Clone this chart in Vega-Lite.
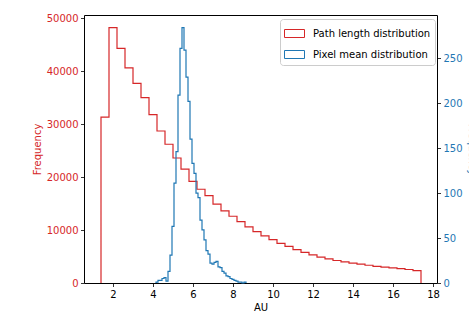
{
  "$schema": "https://vega.github.io/schema/vega-lite/v6.json",
  "autosize": {"type": "none"},
  "width": 353,
  "height": 268,
  "padding": {"left": 84, "top": 15, "right": 32, "bottom": 37},
  "background": "white",
  "config": {
    "font": "DejaVu Sans",
    "view": {"stroke": "#000000", "strokeWidth": 1},
    "axis": {
      "labelFontSize": 10, "titleFontSize": 10, "titleFontWeight": "normal",
      "tickColor": "#000000", "tickSize": 3.5, "tickWidth": 0.8,
      "domain": false, "grid": false, "labelPadding": 2.5,
      "labelColor": "#000000", "titleColor": "#000000"
    },
    "legend": {"labelFontSize": 10}
  },
  "data": {
    "values": [
      {"s": "Path length distribution", "x": 1.4, "y": 0, "i": 0},
      {"s": "Path length distribution", "x": 1.4, "y": 31300, "i": 1},
      {"s": "Path length distribution", "x": 1.8, "y": 48200, "i": 2},
      {"s": "Path length distribution", "x": 2.2, "y": 44300, "i": 3},
      {"s": "Path length distribution", "x": 2.6, "y": 40600, "i": 4},
      {"s": "Path length distribution", "x": 3.0, "y": 37700, "i": 5},
      {"s": "Path length distribution", "x": 3.4, "y": 35000, "i": 6},
      {"s": "Path length distribution", "x": 3.8, "y": 31800, "i": 7},
      {"s": "Path length distribution", "x": 4.2, "y": 28700, "i": 8},
      {"s": "Path length distribution", "x": 4.6, "y": 26200, "i": 9},
      {"s": "Path length distribution", "x": 5.0, "y": 23600, "i": 10},
      {"s": "Path length distribution", "x": 5.4, "y": 21500, "i": 11},
      {"s": "Path length distribution", "x": 5.8, "y": 19200, "i": 12},
      {"s": "Path length distribution", "x": 6.2, "y": 17700, "i": 13},
      {"s": "Path length distribution", "x": 6.6, "y": 16500, "i": 14},
      {"s": "Path length distribution", "x": 7.0, "y": 14900, "i": 15},
      {"s": "Path length distribution", "x": 7.4, "y": 13600, "i": 16},
      {"s": "Path length distribution", "x": 7.8, "y": 12600, "i": 17},
      {"s": "Path length distribution", "x": 8.2, "y": 11600, "i": 18},
      {"s": "Path length distribution", "x": 8.6, "y": 10600, "i": 19},
      {"s": "Path length distribution", "x": 9.0, "y": 9700, "i": 20},
      {"s": "Path length distribution", "x": 9.4, "y": 8900, "i": 21},
      {"s": "Path length distribution", "x": 9.8, "y": 8200, "i": 22},
      {"s": "Path length distribution", "x": 10.2, "y": 7500, "i": 23},
      {"s": "Path length distribution", "x": 10.6, "y": 6900, "i": 24},
      {"s": "Path length distribution", "x": 11.0, "y": 6300, "i": 25},
      {"s": "Path length distribution", "x": 11.4, "y": 5800, "i": 26},
      {"s": "Path length distribution", "x": 11.8, "y": 5300, "i": 27},
      {"s": "Path length distribution", "x": 12.2, "y": 4900, "i": 28},
      {"s": "Path length distribution", "x": 12.6, "y": 4550, "i": 29},
      {"s": "Path length distribution", "x": 13.0, "y": 4250, "i": 30},
      {"s": "Path length distribution", "x": 13.4, "y": 4000, "i": 31},
      {"s": "Path length distribution", "x": 13.8, "y": 3750, "i": 32},
      {"s": "Path length distribution", "x": 14.2, "y": 3550, "i": 33},
      {"s": "Path length distribution", "x": 14.6, "y": 3350, "i": 34},
      {"s": "Path length distribution", "x": 15.0, "y": 3150, "i": 35},
      {"s": "Path length distribution", "x": 15.4, "y": 3000, "i": 36},
      {"s": "Path length distribution", "x": 15.8, "y": 2850, "i": 37},
      {"s": "Path length distribution", "x": 16.2, "y": 2700, "i": 38},
      {"s": "Path length distribution", "x": 16.6, "y": 2550, "i": 39},
      {"s": "Path length distribution", "x": 17.0, "y": 2350, "i": 40},
      {"s": "Path length distribution", "x": 17.4, "y": 0, "i": 41},
      {"s": "Pixel mean distribution", "x": 4.15, "y": 0, "i": 0},
      {"s": "Pixel mean distribution", "x": 4.15, "y": 1, "i": 1},
      {"s": "Pixel mean distribution", "x": 4.25, "y": 3, "i": 2},
      {"s": "Pixel mean distribution", "x": 4.35, "y": 3, "i": 3},
      {"s": "Pixel mean distribution", "x": 4.45, "y": 5, "i": 4},
      {"s": "Pixel mean distribution", "x": 4.55, "y": 6, "i": 5},
      {"s": "Pixel mean distribution", "x": 4.65, "y": 2, "i": 6},
      {"s": "Pixel mean distribution", "x": 4.75, "y": 13, "i": 7},
      {"s": "Pixel mean distribution", "x": 4.85, "y": 31, "i": 8},
      {"s": "Pixel mean distribution", "x": 4.95, "y": 63, "i": 9},
      {"s": "Pixel mean distribution", "x": 5.05, "y": 111, "i": 10},
      {"s": "Pixel mean distribution", "x": 5.15, "y": 146, "i": 11},
      {"s": "Pixel mean distribution", "x": 5.25, "y": 209, "i": 12},
      {"s": "Pixel mean distribution", "x": 5.35, "y": 261, "i": 13},
      {"s": "Pixel mean distribution", "x": 5.45, "y": 284, "i": 14},
      {"s": "Pixel mean distribution", "x": 5.55, "y": 259, "i": 15},
      {"s": "Pixel mean distribution", "x": 5.65, "y": 229, "i": 16},
      {"s": "Pixel mean distribution", "x": 5.75, "y": 202, "i": 17},
      {"s": "Pixel mean distribution", "x": 5.85, "y": 160, "i": 18},
      {"s": "Pixel mean distribution", "x": 5.95, "y": 133, "i": 19},
      {"s": "Pixel mean distribution", "x": 6.05, "y": 122, "i": 20},
      {"s": "Pixel mean distribution", "x": 6.15, "y": 100, "i": 21},
      {"s": "Pixel mean distribution", "x": 6.25, "y": 95, "i": 22},
      {"s": "Pixel mean distribution", "x": 6.35, "y": 70, "i": 23},
      {"s": "Pixel mean distribution", "x": 6.45, "y": 59, "i": 24},
      {"s": "Pixel mean distribution", "x": 6.55, "y": 48, "i": 25},
      {"s": "Pixel mean distribution", "x": 6.65, "y": 36, "i": 26},
      {"s": "Pixel mean distribution", "x": 6.75, "y": 32, "i": 27},
      {"s": "Pixel mean distribution", "x": 6.85, "y": 22, "i": 28},
      {"s": "Pixel mean distribution", "x": 6.95, "y": 21, "i": 29},
      {"s": "Pixel mean distribution", "x": 7.05, "y": 23, "i": 30},
      {"s": "Pixel mean distribution", "x": 7.15, "y": 24, "i": 31},
      {"s": "Pixel mean distribution", "x": 7.25, "y": 18, "i": 32},
      {"s": "Pixel mean distribution", "x": 7.35, "y": 17, "i": 33},
      {"s": "Pixel mean distribution", "x": 7.45, "y": 13, "i": 34},
      {"s": "Pixel mean distribution", "x": 7.55, "y": 11, "i": 35},
      {"s": "Pixel mean distribution", "x": 7.65, "y": 8, "i": 36},
      {"s": "Pixel mean distribution", "x": 7.75, "y": 7, "i": 37},
      {"s": "Pixel mean distribution", "x": 7.85, "y": 5, "i": 38},
      {"s": "Pixel mean distribution", "x": 7.95, "y": 4, "i": 39},
      {"s": "Pixel mean distribution", "x": 8.05, "y": 3, "i": 40},
      {"s": "Pixel mean distribution", "x": 8.15, "y": 2, "i": 41},
      {"s": "Pixel mean distribution", "x": 8.25, "y": 1, "i": 42},
      {"s": "Pixel mean distribution", "x": 8.35, "y": 1, "i": 43},
      {"s": "Pixel mean distribution", "x": 8.45, "y": 0, "i": 44},
      {"s": "Pixel mean distribution", "x": 8.55, "y": 1, "i": 45},
      {"s": "Pixel mean distribution", "x": 8.65, "y": 0, "i": 46}
    ]
  },
  "encoding": {
    "x": {
      "field": "x", "type": "quantitative",
      "scale": {"domain": [0.55, 18.2], "nice": false, "zero": false},
      "axis": {"title": "AU", "values": [2, 4, 6, 8, 10, 12, 14, 16, 18], "titlePadding": 3}
    },
    "color": {
      "field": "s", "type": "nominal",
      "scale": {"domain": ["Path length distribution", "Pixel mean distribution"], "range": ["#d62728", "#1f77b4"]},
      "legend": {
        "title": null, "orient": "none", "legendX": 196, "legendY": 4,
        "symbolType": "M-1,-0.4H1V0.4H-1Z", "symbolSize": 400,
        "symbolFillColor": "transparent", "symbolStrokeWidth": 1,
        "fillColor": "rgba(255,255,255,0.8)", "strokeColor": "#cccccc",
        "cornerRadius": 3, "padding": 4, "rowPadding": 4, "labelOffset": 8,
        "labelColor": "#000000"
      }
    },
    "order": {"field": "i", "type": "quantitative"}
  },
  "layer": [
    {
      "transform": [{"filter": "datum.s === 'Path length distribution'"}],
      "mark": {"type": "line", "interpolate": "step-after", "strokeWidth": 1.2},
      "encoding": {
        "y": {
          "field": "y", "type": "quantitative",
          "scale": {"domain": [0, 50600], "nice": false},
          "axis": {
            "title": "Frequency", "orient": "left",
            "values": [0, 10000, 20000, 30000, 40000, 50000], "format": "d",
            "labelColor": "#d62728", "titleColor": "#d62728", "titlePadding": 4
          }
        }
      }
    },
    {
      "transform": [{"filter": "datum.s === 'Pixel mean distribution'"}],
      "mark": {"type": "line", "interpolate": "step-after", "strokeWidth": 1.2},
      "encoding": {
        "y": {
          "field": "y", "type": "quantitative",
          "scale": {"domain": [0, 298], "nice": false},
          "axis": {
            "title": "Frequency", "orient": "right",
            "values": [0, 50, 100, 150, 200, 250],
            "labelColor": "#1f77b4", "titleColor": "#1f77b4", "titlePadding": 4
          }
        }
      }
    }
  ],
  "resolve": {"scale": {"y": "independent"}}
}
